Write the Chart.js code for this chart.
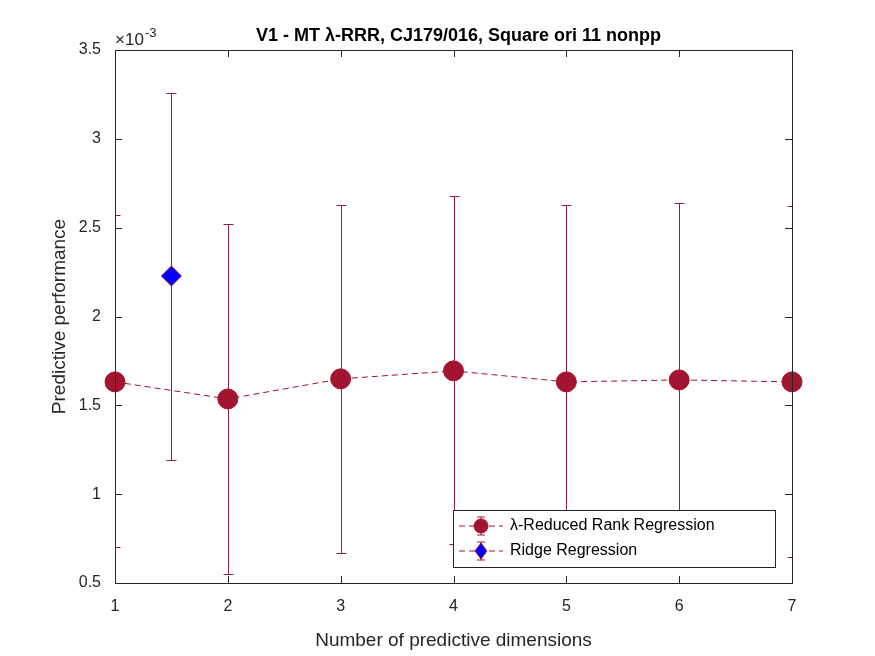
<!DOCTYPE html>
<html><head><meta charset="utf-8">
<script src="https://cdn.jsdelivr.net/npm/chart.js@4"></script>
<style>html,body{margin:0;padding:0;background:#fff}#c{display:block}</style>
</head><body>
<div style="width:875px;height:656px"><canvas id="c"></canvas></div>
<script>
const dims = [1, 2, 3, 4, 5, 6, 7];
const rrrValues = [1.632, 1.536, 1.649, 1.694, 1.632, 1.643, 1.632];
const rrrUpper = [2.57, 2.52, 2.63, 2.68, 2.63, 2.64, 2.62];
const rrrLower = [0.70, 0.55, 0.67, 0.72, 0.635, 0.646, 0.645];
const ridgeX = [1.5];
const ridgeValues = [2.228];
const ridgeUpper = [3.26];
const ridgeLower = [1.193];
const yTicks = [0.5, 1, 1.5, 2, 2.5, 3, 3.5];
const RED = '#A2142F';
const BAR = '#8E1F3E';
const FONT = 'Liberation Sans, Arial, sans-serif';

const deco = {
  id: 'deco',
  beforeDatasetsDraw(chart) {
    const ctx = chart.ctx, xs = chart.scales.x, ys = chart.scales.y, a = chart.chartArea;
    ctx.save();
    ctx.strokeStyle = BAR; ctx.lineWidth = 1;
    const bars = (xv, up, lo) => xv.forEach((x, i) => {
      const px = Math.round(xs.getPixelForValue(x)) + 0.5, pt = Math.round(ys.getPixelForValue(up[i])) + 0.5, pb = Math.round(ys.getPixelForValue(lo[i])) + 0.5;
      ctx.beginPath();
      ctx.moveTo(px, pt); ctx.lineTo(px, pb);
      ctx.moveTo(px - 5, pt); ctx.lineTo(px + 5, pt);
      ctx.moveTo(px - 5, pb); ctx.lineTo(px + 5, pb);
      ctx.stroke();
    });
    ctx.beginPath(); ctx.rect(a.left, a.top, a.right - a.left, a.bottom - a.top); ctx.clip();
    bars(dims, rrrUpper, rrrLower);
    bars(ridgeX, ridgeUpper, ridgeLower);
    ctx.restore();
  },
  afterDraw(chart) {
    const ctx = chart.ctx, xs = chart.scales.x, ys = chart.scales.y, a = chart.chartArea;
    ctx.save();
    ctx.strokeStyle = '#262626'; ctx.lineWidth = 1;
    ctx.strokeRect(a.left + 0.5, a.top + 0.5, a.right - a.left, a.bottom - a.top);
    ctx.beginPath();
    dims.forEach(v => { const p = Math.round(xs.getPixelForValue(v)) + 0.5;
      ctx.moveTo(p, a.bottom); ctx.lineTo(p, a.bottom - 7); ctx.moveTo(p, a.top); ctx.lineTo(p, a.top + 7); });
    yTicks.forEach(v => { const p = Math.round(ys.getPixelForValue(v)) + 0.5;
      ctx.moveTo(a.left, p); ctx.lineTo(a.left + 7, p); ctx.moveTo(a.right, p); ctx.lineTo(a.right - 7, p); });
    ctx.stroke();
    // exponent
    ctx.fillStyle = '#262626'; ctx.font = '17px ' + FONT; ctx.textBaseline = 'alphabetic';
    ctx.fillText('\u00d710', a.left, a.top - 5);
    ctx.font = '13px ' + FONT; ctx.fillText('-3', a.left + 30, a.top - 13);
    // title
    ctx.fillStyle = '#000'; ctx.font = 'bold 18px ' + FONT; ctx.textAlign = 'center';
    ctx.fillText('V1 - MT \u03bb-RRR, CJ179/016, Square ori 11 nonpp', (a.left + a.right) / 2 + 5, a.top - 9);
    // legend
    const lx = 453, ly = 510, lw = 322, lh = 57;
    ctx.fillStyle = '#fff'; ctx.fillRect(lx, ly, lw, lh);
    ctx.strokeStyle = '#262626'; ctx.strokeRect(lx + 0.5, ly + 0.5, lw, lh);
    const item = (y, label, diamond) => {
      ctx.strokeStyle = RED; ctx.setLineDash([6, 4]);
      ctx.beginPath(); ctx.moveTo(lx + 6, y); ctx.lineTo(lx + 50, y); ctx.stroke();
      ctx.setLineDash([]);
      const cx = lx + 28;
      ctx.beginPath(); ctx.moveTo(cx, y - 9); ctx.lineTo(cx, y + 9);
      ctx.moveTo(cx - 4, y - 9); ctx.lineTo(cx + 4, y - 9); ctx.moveTo(cx - 4, y + 9); ctx.lineTo(cx + 4, y + 9); ctx.stroke();
      ctx.beginPath();
      if (diamond) { ctx.moveTo(cx, y - 8); ctx.lineTo(cx + 6, y); ctx.lineTo(cx, y + 8); ctx.lineTo(cx - 6, y); ctx.closePath(); ctx.fillStyle = '#0000ff'; }
      else { ctx.arc(cx, y, 7, 0, Math.PI * 2); ctx.fillStyle = RED; }
      ctx.fill(); ctx.stroke();
      ctx.fillStyle = '#000'; ctx.font = '16px ' + FONT; ctx.textAlign = 'left'; ctx.textBaseline = 'middle';
      ctx.fillText(label, lx + 57, y);
    };
    item(ly + 16, '\u03bb-Reduced Rank Regression', false);
    item(ly + 41, 'Ridge Regression', true);
    ctx.restore();
  }
};

new Chart(document.getElementById('c'), {
  type: 'line',
  data: {
    datasets: [
      { label: 'rrr', data: dims.map((x, i) => ({ x, y: rrrValues[i] })), borderColor: RED, borderWidth: 1,
        borderDash: [6, 4], pointRadius: 10, pointBackgroundColor: RED, pointBorderColor: RED, clip: false },
      { label: 'ridge', data: ridgeX.map((x, i) => ({ x, y: ridgeValues[i] })), showLine: false, pointStyle: 'rectRot',
        pointRadius: 10, pointBackgroundColor: '#0000ff', pointBorderColor: RED, pointBorderWidth: 1, clip: false }
    ]
  },
  options: {
    responsive: true, maintainAspectRatio: false, animation: false,
    layout: { padding: { left: 44, right: 83, top: 50, bottom: 0 } },
    plugins: { legend: { display: false }, tooltip: { enabled: false } },
    scales: {
      x: { type: 'linear', min: 1, max: 7,
        afterFit(s) { s.height = 73; },
        grid: { display: false }, border: { display: false },
        ticks: { stepSize: 1, color: '#262626', font: { size: 16, family: FONT }, padding: 6 },
        title: { display: true, text: 'Number of predictive dimensions', color: '#262626', font: { size: 19, family: FONT }, padding: { top: 2 } } },
      y: { min: 0.5, max: 3.5,
        afterFit(s) { s.width = 71; },
        afterBuildTicks(s) { s.ticks = yTicks.map(v => ({ value: v })); },
        grid: { display: false }, border: { display: false },
        ticks: { color: '#262626', font: { size: 16, family: FONT }, padding: 6, callback: v => String(v) },
        title: { display: true, text: 'Predictive performance', color: '#262626', font: { size: 19, family: FONT }, padding: { bottom: 2 } } }
    }
  },
  plugins: [deco]
});
</script>
</body></html>
